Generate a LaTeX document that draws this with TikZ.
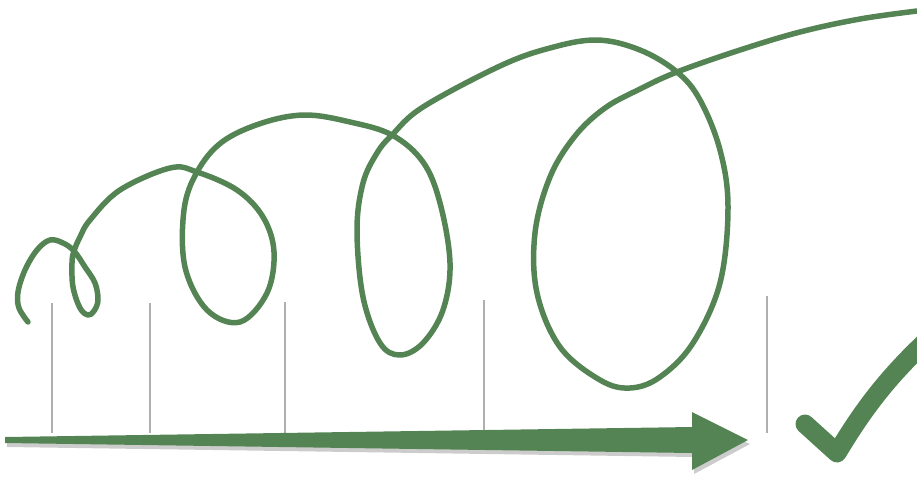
\documentclass[tikz,border=0pt]{standalone}
\usepackage{xcolor}
\usepackage{tikz}
\usetikzlibrary{calc}

\definecolor{leafgreen}{RGB}{84,132,84}
\definecolor{tickgray}{RGB}{175,175,175}

\begin{document}
\begin{tikzpicture}[x=1pt, y=-1pt,
  curl/.style={draw=leafgreen, line width=5.5pt, line cap=round, line join=round},
  tickline/.style={draw=tickgray, line width=1.6pt},
  arrowbody/.style={fill=leafgreen},
  checkstroke/.style={draw=leafgreen, line width=19pt, line cap=round, line join=round}]

  \useasboundingbox (0,0) rectangle (917,477);
  \clip (0,0) rectangle (917,477);

  % Tick marks
  \foreach \x/\top in {52/303, 150/303, 285/302, 484/300, 767/296}
    \draw[tickline] (\x,\top) -- (\x,433);

  % Timeline arrow (with a soft shadow)
  \fill[black!20] (7,441) -- (694,431) -- (694,416) -- (750,444) -- (694,474) -- (694,457) -- (7,447) -- cycle;
  \fill[arrowbody] (5,437) -- (692,427) -- (692,412) -- (748,440) -- (692,470) -- (692,453) -- (5,443) -- cycle;

  % Looping path
  \draw[curl] plot[smooth, tension=0.6] coordinates {
    (28,322) (19,308) (18,292) (25,270) (37,250) (50,240) (63,243) (74,251)
    (85,267) (95,283) (98,300) (94,311) (88,315) (80,308) (73,287) (72,263) (74,251)
    (80,237) (90,220) (120,190) (170,168) (197,172)
    (237,190) (263,217) (274,252) (267,293) (240,322) (207,310)
    (185,267) (184,210) (197,172) (222,142) (262,123) (305,115)
    (350,122) (392,135)
    (423,162) (440,203) (450,263) (443,310) (423,343) (400,355)
    (380,343) (363,297) (357,230) (363,183) (377,153) (392,135)
    (423,107) (500,66) (550,48) (597,40) (640,50) (677,72)
    (700,100) (720,150) (728,207) (720,283) (693,343) (660,377)
    (630,388) (600,380) (560,347) (537,293) (535,233) (550,177)
    (575,136) (605,108) (640,89) (677,72) (740,50) (800,32) (860,19) (917,11)
  };

  % Check mark
  \draw[checkstroke] (805,424) -- (837,453) .. controls (860,415) and (885,378) .. (935,333);

\end{tikzpicture}
\end{document}
